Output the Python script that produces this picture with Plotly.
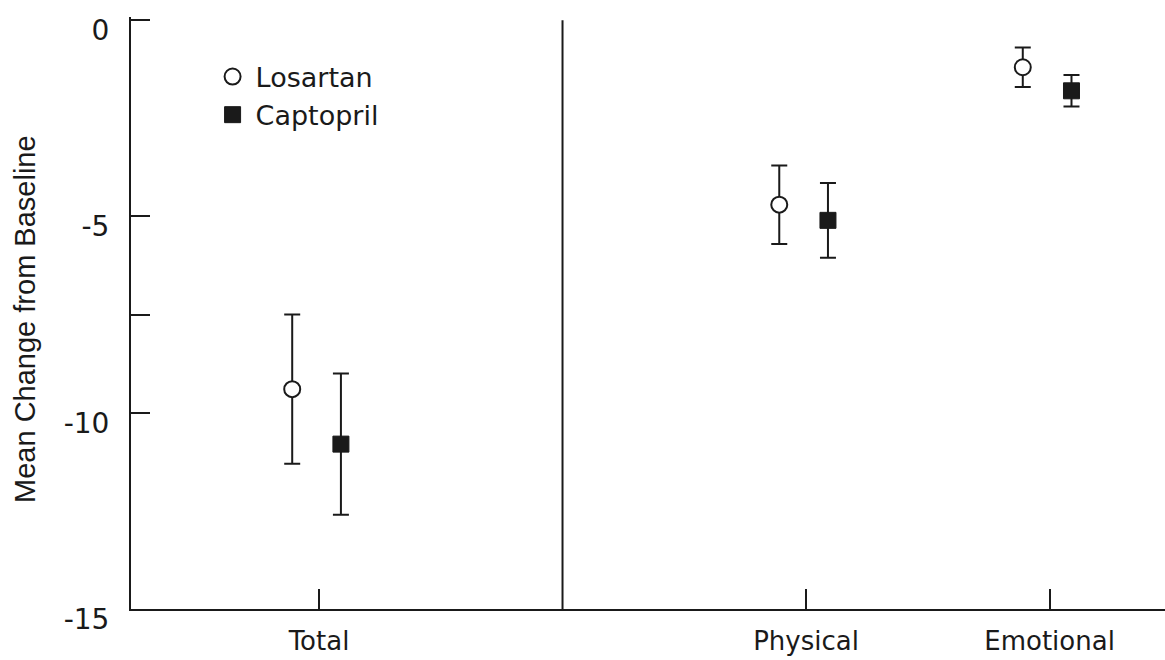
import plotly.graph_objects as go

# Quality-of-life scores: mean change from baseline with error bars
categories = ["Total", "Physical", "Emotional"]
losartan_mean = [-9.4, -4.7, -1.2]
losartan_err = [1.9, 1.0, 0.5]
captopril_mean = [-10.8, -5.1, -1.8]
captopril_err = [1.8, 0.95, 0.4]

y_tick_vals = [0, -5, -7.5, -10, -15]
y_tick_text = ["0", "-5", "", "-10", "-15"]

INK = "#1a1a1a"
TICK_FONT = dict(family="DejaVu Sans", size=26, color=INK)

# Category slots on the x axis; slot 2 holds the divider between Total and subscales
slot = {"Total": 1, "Physical": 3, "Emotional": 4}
x_cat = [slot[c] for c in categories]
divider_x = 2

fig = go.Figure()

fig.add_trace(go.Scatter(
    x=[p - 0.11 for p in x_cat],
    y=losartan_mean,
    mode="markers",
    name="Losartan",
    marker=dict(symbol="circle", size=16, color="white",
                line=dict(color=INK, width=2)),
    error_y=dict(type="data", array=losartan_err, visible=True,
                 color=INK, thickness=2, width=8),
))

fig.add_trace(go.Scatter(
    x=[p + 0.09 for p in x_cat],
    y=captopril_mean,
    mode="markers",
    name="Captopril",
    marker=dict(symbol="square", size=16, color=INK,
                line=dict(color=INK, width=1)),
    error_y=dict(type="data", array=captopril_err, visible=True,
                 color=INK, thickness=2, width=8),
))

fig.add_shape(type="line", xref="x", yref="y",
              x0=divider_x, x1=divider_x, y0=-15, y1=0,
              line=dict(color=INK, width=2))

fig.add_annotation(
    text="Mean Change from Baseline", textangle=-90,
    xref="paper", yref="paper", x=-0.1025, y=0.49,
    xanchor="center", yanchor="middle", showarrow=False,
    font=dict(family="Liberation Sans", size=29, color=INK),
)

fig.update_layout(
    width=1165, height=660,
    margin=dict(l=131, r=0, t=17, b=51),
    paper_bgcolor="white", plot_bgcolor="white",
    showlegend=True,
    legend=dict(x=0.076, y=0.94, xanchor="left", yanchor="top",
                font=dict(family="DejaVu Sans", size=27, color=INK),
                bgcolor="rgba(0,0,0,0)",
                itemwidth=36, tracegroupgap=0),
    xaxis=dict(
        range=[0.228, 4.474],
        tickvals=x_cat, ticktext=categories,
        ticks="inside", ticklen=20, tickwidth=2, tickcolor=INK,
        showline=True, linewidth=2, linecolor=INK,
        showgrid=False, zeroline=False,
        tickfont=TICK_FONT, ticklabelstandoff=8,
    ),
    yaxis=dict(
        range=[-15, 0.08],
        tickvals=y_tick_vals, ticktext=y_tick_text,
        ticks="inside", ticklen=19, tickwidth=2, tickcolor=INK,
        showline=True, linewidth=2, linecolor=INK,
        showgrid=False, zeroline=False,
        tickfont=dict(family="DejaVu Sans", size=28, color=INK),
        ticklabelshift=10, ticklabelstandoff=14,
    ),
)

fig.write_html("out.html")
